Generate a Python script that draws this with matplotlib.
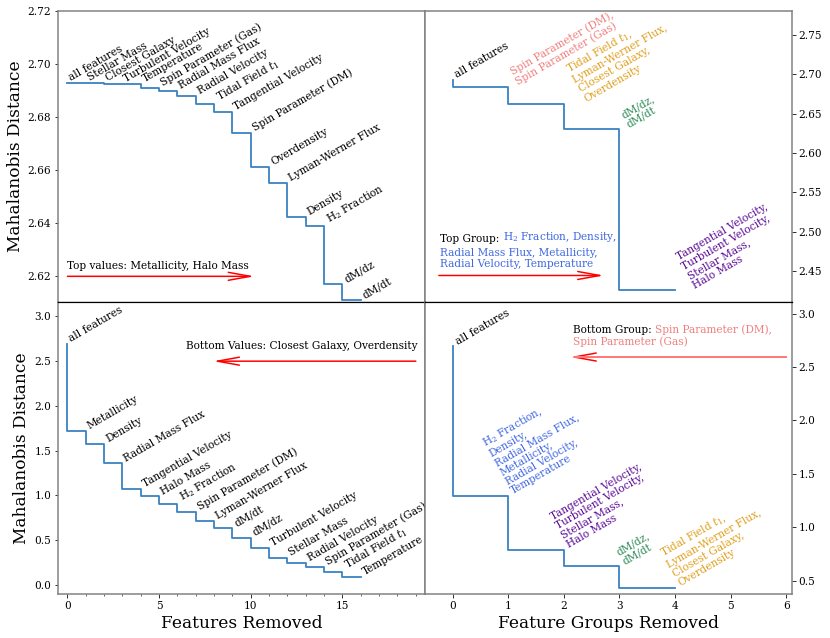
import numpy as np
import matplotlib
matplotlib.use("Agg")
import matplotlib.pyplot as plt
from matplotlib.ticker import MultipleLocator, FormatStrFormatter

plt.rcParams["font.family"] = "DejaVu Serif"
plt.rcParams["mathtext.fontset"] = "dejavuserif"

# Top-left: removing features that lower the distance the least
top_features = ["all features", "Stellar Mass", "Closest Galaxy", "Turbulent Velocity",
                "Temperature", "Spin Parameter (Gas)", "Radial Mass Flux", "Radial Velocity",
                "Tidal Field $t_1$", "Tangential Velocity", "Spin Parameter (DM)", "Overdensity",
                "Lyman-Werner Flux", "Density", "H$_2$ Fraction", "dM/dz", "dM/dt"]
top_dist = [2.6927, 2.6927, 2.6926, 2.6925, 2.6924, 2.6908, 2.6898, 2.6880, 2.6850,
            2.6820, 2.6740, 2.6610, 2.6551, 2.6423, 2.6390, 2.6170, 2.6110]

# Bottom-left: removing features that lower the distance the most
bottom_features = ["all features", "Metallicity", "Density", "Radial Mass Flux",
                   "Tangential Velocity", "Halo Mass", "H$_2$ Fraction", "Spin Parameter (DM)",
                   "Lyman-Werner Flux", "dM/dt", "dM/dz", "Turbulent Velocity", "Stellar Mass",
                   "Radial Velocity", "Spin Parameter (Gas)", "Tidal Field $t_1$", "Temperature"]
bottom_dist = [2.6927, 1.722, 1.574, 1.359, 1.074, 0.989, 0.908, 0.811, 0.711,
               0.637, 0.526, 0.414, 0.303, 0.248, 0.203, 0.141, 0.086]

# feature groups
grp_salmon = "Spin Parameter (DM),\nSpin Parameter (Gas)"
grp_gold = "Tidal Field $t_1$,\nLyman-Werner Flux,\nClosest Galaxy,\nOverdensity"
grp_green = "dM/dz,\ndM/dt"
grp_purple = "Tangential Velocity,\nTurbulent Velocity,\nStellar Mass,\nHalo Mass"
grp_blue = "H$_2$ Fraction,\nDensity,\nRadial Mass Flux,\nMetallicity,\nRadial Velocity,\nTemperature"

c_salmon = "#f08080"
c_gold = "#e0a020"
c_green = "#2e8b57"
c_purple = "#5a0a96"
c_blue = "#4169e1"

top_groups = ["all features", grp_salmon, grp_gold, grp_green, grp_purple]
top_group_colors = ["black", c_salmon, c_gold, c_green, c_purple]
top_group_dist = [2.6928, 2.684, 2.6625, 2.630, 2.4256]

bottom_groups = ["all features", grp_blue, grp_purple, grp_green, grp_gold]
bottom_group_colors = ["black", c_blue, c_purple, c_green, c_gold]
bottom_group_dist = [2.6927, 1.290, 0.790, 0.634, 0.429]

fig, axes = plt.subplots(2, 2, figsize=(830 / 72, 638 / 72), dpi=72, sharex="col")
fig.subplots_adjust(left=0.0702, right=0.9539, bottom=0.069, top=0.9832,
                    wspace=0, hspace=0)
ax_tl, ax_tr = axes[0]
ax_bl, ax_br = axes[1]

lab_fs = 10.5
arrow_kw = dict(arrowstyle="->,head_length=2.2,head_width=0.4", color="red",
                lw=1.5, mutation_scale=10, shrinkA=0, shrinkB=0)


def step_panel(ax, names, dist, colors=None, anchored=False):
    x = np.arange(len(dist))
    ax.step(x, dist, where="pre", color="#3a82c0", lw=1.8)
    for i, (name, d) in enumerate(zip(names, dist)):
        col = "black" if colors is None else colors[i]
        if anchored:
            ax.annotate(name, (x[i], d), xytext=(6, 0), textcoords="offset points",
                        rotation=30, rotation_mode="anchor", ha="left", va="bottom",
                        fontsize=lab_fs, color=col, linespacing=1.1)
        else:
            ax.text(x[i], d, name, rotation=30, ha="left", va="bottom",
                    fontsize=lab_fs, color=col, linespacing=1.1)


step_panel(ax_tl, top_features, top_dist)
step_panel(ax_bl, bottom_features, bottom_dist)
step_panel(ax_tr, top_groups, top_group_dist, top_group_colors)
step_panel(ax_br, bottom_groups, bottom_group_dist, bottom_group_colors, anchored=True)

# top-left arrow
ax_tl.annotate("", xy=(10.2, 2.62), xytext=(0, 2.62), arrowprops=arrow_kw)
ax_tl.text(0, 2.6229, "Top values: Metallicity, Halo Mass", fontsize=lab_fs, va="baseline")

# bottom-left arrow
ax_bl.annotate("", xy=(7.95, 2.5), xytext=(19.0, 2.5), arrowprops=arrow_kw)
ax_bl.text(19.1, 2.64, "Bottom Values: Closest Galaxy, Overdensity", fontsize=lab_fs,
           ha="right", va="baseline")

# top-right arrow + group text
ax_tr.annotate("", xy=(2.72, 2.4446), xytext=(-0.25, 2.4446), arrowprops=arrow_kw)
t = ax_tr.text(-0.23, 2.4866, "Top Group: ", fontsize=lab_fs, va="baseline")
ax_tr.annotate("H$_2$ Fraction, Density,", xy=(1, 0), xycoords=t, va="bottom",
               fontsize=lab_fs, color=c_blue)
ax_tr.text(-0.23, 2.455, "Radial Mass Flux, Metallicity,\nRadial Velocity, Temperature",
           fontsize=lab_fs, va="baseline", color=c_blue, linespacing=1.1)

# bottom-right arrow + group text
ax_br.annotate("", xy=(2.11, 2.594), xytext=(6.0, 2.594), arrowprops=arrow_kw)
ax_br.plot([2.2, 6.0], [2.594, 2.594], color="#ff8080", lw=1.8, zorder=3)
t = ax_br.text(2.16, 2.822, "Bottom Group: ", fontsize=lab_fs, va="baseline")
ax_br.annotate("Spin Parameter (DM),", xy=(1, 0), xycoords=t, va="bottom",
               fontsize=lab_fs, color=c_salmon)
ax_br.text(2.16, 2.704, "Spin Parameter (Gas)", fontsize=lab_fs, va="baseline",
           color=c_salmon)

# limits and ticks
ax_bl.set_xlim(-0.5, 19.5)
ax_bl.xaxis.set_major_locator(MultipleLocator(5))
ax_bl.xaxis.set_minor_locator(MultipleLocator(1))
ax_br.set_xlim(-0.5, 6.1)
ax_br.xaxis.set_major_locator(MultipleLocator(1))

ax_tl.set_ylim(2.6102, 2.72)
ax_tl.set_yticks(np.arange(2.62, 2.7201, 0.02))
ax_tl.yaxis.set_major_formatter(FormatStrFormatter("%.2f"))
ax_tr.set_ylim(2.4105, 2.7807)
ax_tr.set_yticks(np.arange(2.45, 2.7501, 0.05))
ax_tr.yaxis.set_major_formatter(FormatStrFormatter("%.2f"))
ax_bl.set_ylim(-0.1, 3.157)
ax_bl.set_yticks(np.arange(0, 3.01, 0.5))
ax_bl.yaxis.set_major_formatter(FormatStrFormatter("%.1f"))
ax_br.set_ylim(0.376, 3.106)
ax_br.set_yticks(np.arange(0.5, 3.01, 0.5))
ax_br.yaxis.set_major_formatter(FormatStrFormatter("%.1f"))

for ax in (ax_tr, ax_br):
    ax.yaxis.tick_right()
for ax in (ax_tl, ax_tr):
    ax.tick_params(axis="x", which="both", bottom=False, labelbottom=False)

for ax in axes.flat:
    ax.tick_params(labelsize=10.5)
    for sp in ax.spines.values():
        sp.set_color("#808080")
        sp.set_linewidth(1.5)
for ax in (ax_tl, ax_tr):
    ax.spines["bottom"].set_color("black")
    ax.spines["bottom"].set_linewidth(1.2)
for ax in (ax_bl, ax_br):
    ax.spines["top"].set_color("black")
    ax.spines["top"].set_linewidth(1.2)

ax_tl.set_ylabel("Mahalanobis Distance", fontsize=17)
ax_bl.set_ylabel("Mahalanobis Distance", fontsize=17)
ax_bl.set_xlabel("Features Removed", fontsize=17)
ax_br.set_xlabel("Feature Groups Removed", fontsize=17)

fig.savefig("out.png", dpi=72)
